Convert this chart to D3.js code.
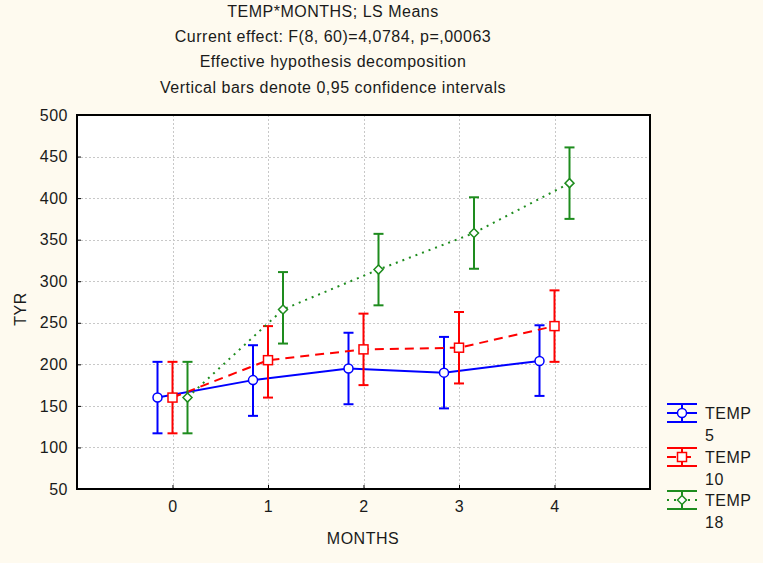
<!DOCTYPE html>
<html>
<head>
<meta charset="utf-8">
<script src="https://cdn.jsdelivr.net/npm/d3@7"></script>
<style>
  html, body { margin: 0; padding: 0; background: #FEFAEF; }
  svg { display: block; }
  text { font-family: Arial, "Liberation Sans", sans-serif; fill: #1a1a1a; letter-spacing: 0.5px; }
</style>
</head>
<body>
<svg id="chart" width="763" height="563"></svg>
<script>
// ---- data ----
const titleLines = [
  "TEMP*MONTHS; LS Means",
  "Current effect: F(8, 60)=4,0784, p=,00063",
  "Effective hypothesis decomposition",
  "Vertical bars denote 0,95 confidence intervals"
];
const months = [0, 1, 2, 3, 4];
const yTicks = [50, 100, 150, 200, 250, 300, 350, 400, 450, 500];
const seriesNames = ["TEMP\n5", "TEMP\n10", "TEMP\n18"];

const temp5Mean = [160, 181, 195, 190, 204];
const temp5Low  = [117, 138, 152, 147, 162];
const temp5High = [203, 223, 238, 233, 247];

const temp10Mean = [160, 205, 218, 220, 246];
const temp10Low  = [117, 160, 175, 177, 203];
const temp10High = [203, 246, 261, 263, 289];

const temp18Mean = [160, 266, 314, 358, 418];
const temp18Low  = [117, 225, 271, 315, 375];
const temp18High = [203, 311, 357, 401, 461];

(function () {
// ---- layout ----
const svg = d3.select("#chart");
const pL = 77, pR = 650, pT = 115, pB = 489;
const FS = 16;
const x = d3.scaleLinear().domain([-1, 5]).range([pL, pR]);
const y = d3.scaleLinear().domain([50, 500]).range([pB, pT]);

const series = [
  { name: seriesNames[0], mean: temp5Mean, lo: temp5Low, hi: temp5High, color: "#0000FF", dash: null, marker: "circle", off: -15 },
  { name: seriesNames[1], mean: temp10Mean, lo: temp10Low, hi: temp10High, color: "#FF0000", dash: "9,6", marker: "square", off: 0 },
  { name: seriesNames[2], mean: temp18Mean, lo: temp18Low, hi: temp18High, color: "#1E8C1E", dash: "2,5", marker: "diamond", off: 15 }
];

// titles
svg.selectAll("text.title").data(titleLines).join("text")
  .attr("class", "title")
  .attr("x", 333).attr("y", (d, i) => 17 + i * 25.2)
  .attr("text-anchor", "middle")
  .attr("font-size", FS)
  .text(d => d);

// plot background
svg.append("rect").attr("x", pL).attr("y", pT)
  .attr("width", pR - pL).attr("height", pB - pT)
  .attr("fill", "#FFFFFF");

// grid
const grid = svg.append("g");
grid.selectAll("line.hg").data(yTicks.slice(1, -1)).join("line")
  .attr("x1", pL).attr("x2", pR)
  .attr("y1", d => Math.round(y(d)) + 0.5).attr("y2", d => Math.round(y(d)) + 0.5)
  .attr("stroke", "#C8C8C8").attr("stroke-width", 1).attr("stroke-dasharray", "2,2");
grid.selectAll("line.vg").data(months).join("line")
  .attr("y1", pT).attr("y2", pB)
  .attr("x1", d => Math.round(x(d)) + 0.5).attr("x2", d => Math.round(x(d)) + 0.5)
  .attr("stroke", "#C8C8C8").attr("stroke-width", 1).attr("stroke-dasharray", "2,2");

// axes
const yAxis = d3.axisLeft(y).tickValues(yTicks).tickSizeInner(-4).tickSizeOuter(0).tickPadding(9);
const gy = svg.append("g").attr("transform", `translate(${pL},0)`).call(yAxis);
gy.select(".domain").remove();
gy.selectAll("text").attr("font-size", FS).attr("fill", "#1a1a1a").attr("font-family", "Arial, 'Liberation Sans', sans-serif");
gy.selectAll("line").attr("stroke", "#000");

const xAxis = d3.axisBottom(x).tickValues(months).tickSizeInner(-4).tickSizeOuter(0).tickPadding(12).tickFormat(d3.format("d"));
const gx = svg.append("g").attr("transform", `translate(0,${pB})`).call(xAxis);
gx.select(".domain").remove();
gx.selectAll("text").attr("font-size", FS).attr("fill", "#1a1a1a").attr("font-family", "Arial, 'Liberation Sans', sans-serif");
gx.selectAll("line").attr("stroke", "#000");

// frame
svg.append("rect").attr("x", pL).attr("y", pT)
  .attr("width", pR - pL).attr("height", pB - pT)
  .attr("fill", "none").attr("stroke", "#000").attr("stroke-width", 2);

// axis titles
svg.append("text").attr("x", 363).attr("y", 544).attr("text-anchor", "middle")
  .attr("font-size", FS).text("MONTHS");
svg.append("text").attr("transform", "translate(26,309) rotate(-90)")
  .attr("text-anchor", "middle").attr("font-size", FS).text("TYR");

// marker drawer
function drawMarker(g, type, cx, cy, color) {
  if (type === "circle") {
    g.append("circle").attr("cx", cx).attr("cy", cy).attr("r", 4.5)
      .attr("fill", "#fff").attr("stroke", color).attr("stroke-width", 1.5);
  } else if (type === "square") {
    g.append("rect").attr("x", cx - 4.5).attr("y", cy - 4.5).attr("width", 9).attr("height", 9)
      .attr("fill", "#fff").attr("stroke", color).attr("stroke-width", 1.5);
  } else {
    const s = 4.5;
    g.append("path").attr("d", `M${cx},${cy - s}L${cx + s},${cy}L${cx},${cy + s}L${cx - s},${cy}Z`)
      .attr("fill", "#fff").attr("stroke", color).attr("stroke-width", 1.5);
  }
}

// series
const cap = 5;
series.forEach(s => {
  const g = svg.append("g");
  const px = i => x(months[i]) + s.off;
  const line = d3.line().x((d, i) => px(i)).y(d => y(d));
  g.append("path").attr("d", line(s.mean)).attr("fill", "none")
    .attr("stroke", s.color).attr("stroke-width", 2)
    .attr("stroke-dasharray", s.dash);
  months.forEach((m, i) => {
    const cx = px(i);
    g.append("line").attr("x1", cx).attr("x2", cx).attr("y1", y(s.lo[i])).attr("y2", y(s.hi[i]))
      .attr("stroke", s.color).attr("stroke-width", 2);
    [s.lo[i], s.hi[i]].forEach(v => {
      g.append("line").attr("x1", cx - cap).attr("x2", cx + cap).attr("y1", y(v)).attr("y2", y(v))
        .attr("stroke", s.color).attr("stroke-width", 2);
    });
  });
  months.forEach((m, i) => drawMarker(g, s.marker, px(i), y(s.mean[i]), s.color));
});

// legend
const legY = [413, 457, 500];
series.forEach((s, k) => {
  const g = svg.append("g");
  const cy = legY[k];
  const x0 = 667, x1 = 697, xc = 682;
  g.append("line").attr("x1", x0).attr("x2", x1).attr("y1", cy).attr("y2", cy)
    .attr("stroke", s.color).attr("stroke-width", 2).attr("stroke-dasharray", s.dash);
  g.append("line").attr("x1", xc).attr("x2", xc).attr("y1", cy - 9).attr("y2", cy + 9)
    .attr("stroke", s.color).attr("stroke-width", 2);
  [cy - 9, cy + 9].forEach(yy => g.append("line").attr("x1", x0).attr("x2", x1)
    .attr("y1", yy).attr("y2", yy).attr("stroke", s.color).attr("stroke-width", 2));
  drawMarker(g, s.marker, xc, cy, s.color);
  const lines = s.name.split("\n");
  g.append("text").attr("x", 705).attr("y", cy + 6).attr("font-size", FS).text(lines[0]);
  g.append("text").attr("x", 705).attr("y", cy + 28).attr("font-size", FS).text(lines[1]);
});
})();
</script>
</body>
</html>
